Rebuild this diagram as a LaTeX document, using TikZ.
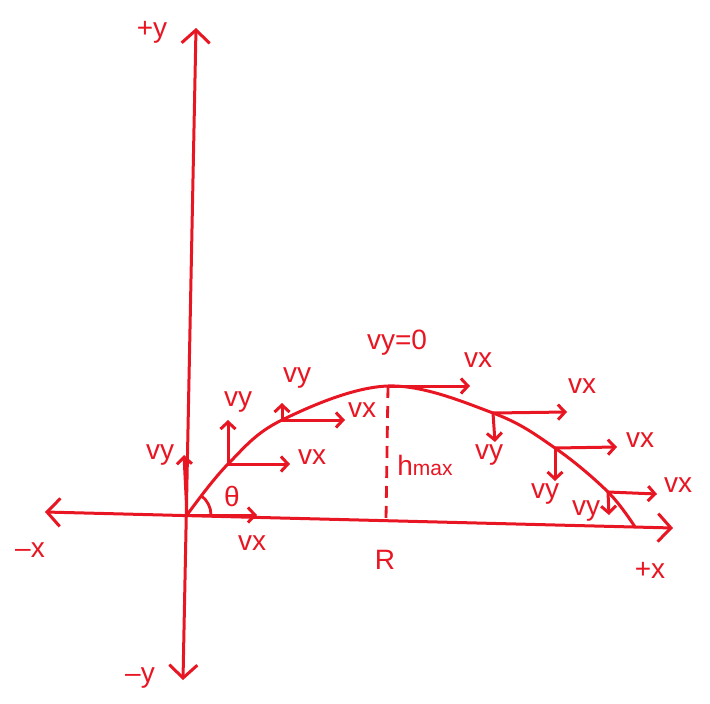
\documentclass[tikz,border=0pt]{standalone}
\usepackage{fontspec}
\setmainfont{Liberation Sans}
\usetikzlibrary{arrows.meta}
\definecolor{pen}{RGB}{232,22,34}

\begin{document}
\begin{tikzpicture}[x=1pt,y=-1pt,font=\fontsize{28}{30}\selectfont,
 ax/.style={draw=pen,line width=3pt,line cap=round,{Straight Barb[length=13pt,width=28pt]}-{Straight Barb[length=13pt,width=28pt]}},
 v/.style={draw=pen,line width=3pt,line cap=round,-{Straight Barb[length=7pt,width=15pt]}},
 t/.style={text=pen,inner sep=1pt}]
\path[use as bounding box] (0,0) rectangle (710,704);
\coordinate (o) at (187,515);
\coordinate (ytop) at (196,28);
\coordinate (ybot) at (183,680);
\coordinate (xl) at (45,512);
\coordinate (xr) at (673,528);
\coordinate (p1) at (228,464);
\coordinate (p2) at (282,420);
\coordinate (top) at (388,386);
\coordinate (q1) at (493,413);
\coordinate (q2) at (555,448);
\coordinate (q3) at (608,492);
\coordinate (land) at (635,527);
\coordinate (foot) at (386,520);
\coordinate (oy) at (184,455);
\coordinate (ox) at (257,515);
\coordinate (p1y) at (228,420);
\coordinate (p1x) at (290,464);
\coordinate (p2y) at (282,403);
\coordinate (p2x) at (345,420);
\coordinate (topx) at (470,386);
\coordinate (q1x) at (567,412);
\coordinate (q1y) at (495,442);
\coordinate (q2x) at (617,447);
\coordinate (q2y) at (555,481);
\coordinate (q3x) at (657,494);
\coordinate (q3y) at (609,515);
\draw[ax] (ybot) -- (ytop);
\draw[ax] (xl) -- (xr);
\draw[pen,line width=3pt] plot[smooth,tension=0.6] coordinates {(o) (p1) (p2) (top) (q1) (q2) (q3) (land)};
\draw[pen,line width=2.8pt,dashed,dash pattern=on 12pt off 8pt] (top) -- (foot);
\draw[pen,line width=2.8pt] ([xshift=24pt]o) arc (0:-54:24);
\draw[v] (o) -- (oy);
\draw[v] (o) -- (ox);
\draw[v] (p1) -- (p1y);
\draw[v] (p1) -- (p1x);
\draw[v] (p2) -- (p2y);
\draw[v] (p2) -- (p2x);
\draw[v] (top) -- (topx);
\draw[v] (q1) -- (q1x);
\draw[v] (q1) -- (q1y);
\draw[v] (q2) -- (q2x);
\draw[v] (q2) -- (q2y);
\draw[v] (q3) -- (q3x);
\draw[v] (q3) -- (q3y);
\node[t] (lpy) at (152,32) {+y};
\node[t] (lmy) at (140,678) {--y};
\node[t] (lmx) at (30,550) {--x};
\node[t] (lpx) at (650,570) {+x};
\node[t] (loy) at (160,455) {vy};
\node[t] (lox) at (252,543) {vx};
\node[t] (lth) at (232,496) {θ};
\node[t] (lp1y) at (238,402) {vy};
\node[t] (lp1x) at (312,457) {vx};
\node[t] (lp2y) at (297,378) {vy};
\node[t] (lp2x) at (362,410) {vx};
\node[t] (ltop) at (397,343) {vy=0};
\node[t] (ltopx) at (478,360) {vx};
\node[t] (lh) at (425,465) {h{\fontsize{21}{23}\selectfont max}};
\node[t] (lR) at (385,560) {R};
\node[t] (lq1x) at (582,386) {vx};
\node[t] (lq1y) at (489,455) {vy};
\node[t] (lq2x) at (640,440) {vx};
\node[t] (lq2y) at (545,494) {vy};
\node[t] (lq3x) at (678,485) {vx};
\node[t] (lq3y) at (586,511) {vy};
\end{tikzpicture}
\end{document}
